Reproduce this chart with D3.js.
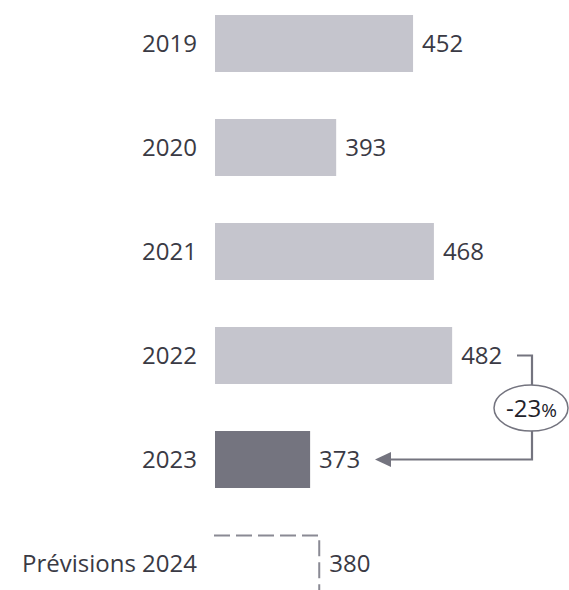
<!DOCTYPE html>
<html>
<head>
<meta charset="utf-8">
<script src="https://cdn.jsdelivr.net/npm/d3@7"></script>
<style>
  html, body { margin: 0; padding: 0; background: #ffffff; }
  svg { display: block; }
  text { font-family: "Open Sans", "Noto Sans", sans-serif; fill: #3a3a44; }
</style>
</head>
<body>
<svg id="chart" width="569" height="590"></svg>
<script>
// Annual figures, plus the 2024 forecast drawn as an outline
const categories = ["2019", "2020", "2021", "2022", "2023", "Prévisions 2024"];
const values = [452, 393, 468, 482, 373, 380];
const kinds = ["past", "past", "past", "past", "current", "forecast"];
const changeNumber = "-23";
const changeUnit = "%";

const W = 569, H = 590;
const svg = d3.select("#chart");

const x = d3.scaleLinear().domain([300, 500]).range([215, 475.6]);
const y = d3.scaleBand()
  .domain(categories)
  .range([-32, 639])
  .paddingInner(0.452)
  .paddingOuter(0.452);

const colors = { past: "#c5c5cd", current: "#74747f" };
const rows = categories.map((c, i) => ({ cat: c, value: values[i], kind: kinds[i] }));
const mid = d => y(d.cat) + y.bandwidth() / 2;

// Solid bars
svg.append("g").selectAll("rect")
  .data(rows.filter(d => d.kind !== "forecast"))
  .join("rect")
  .attr("x", x(300))
  .attr("y", d => y(d.cat))
  .attr("width", d => x(d.value) - x(300))
  .attr("height", y.bandwidth())
  .attr("fill", d => colors[d.kind]);

// Forecast: dashed top edge and right edge
rows.filter(d => d.kind === "forecast").forEach(d => {
  const top = y(d.cat) + 0.5, x1 = x(d.value);
  svg.append("path")
    .attr("d", `M${x(300) - 1},${top}H${x1}V${top + y.bandwidth() + 4}`)
    .attr("fill", "none")
    .attr("stroke", "#8a8a94")
    .attr("stroke-width", 2)
    .attr("stroke-dasharray", "16,6");
});

// Category labels
svg.append("g").selectAll("text")
  .data(rows)
  .join("text")
  .attr("x", 197)
  .attr("y", mid)
  .attr("dy", "0.357em")
  .attr("text-anchor", "end")
  .attr("font-size", 24)
  .text(d => d.cat);

// Value labels
svg.append("g").selectAll("text")
  .data(rows)
  .join("text")
  .attr("x", d => x(d.value) + (d.kind === "forecast" ? 10 : 9))
  .attr("y", mid)
  .attr("dy", "0.357em")
  .attr("font-size", 24)
  .text(d => d.value);

// Change connector from 2022 to 2023
const from = rows[3], to = rows[4];
const cx = 532;
const yFrom = mid(from), yTo = mid(to);
const lineColor = "#74747f";

svg.append("path")
  .attr("d", `M517,${yFrom}H${cx}V${yTo}H390`)
  .attr("fill", "none")
  .attr("stroke", lineColor)
  .attr("stroke-width", 2.2);

svg.append("path")
  .attr("d", `M375,${yTo}L391,${yTo - 7.5}L391,${yTo + 7.5}Z`)
  .attr("fill", lineColor);

const ey = 408;
svg.append("ellipse")
  .attr("cx", cx - 1)
  .attr("cy", ey)
  .attr("rx", 37)
  .attr("ry", 23)
  .attr("fill", "#ffffff")
  .attr("stroke", lineColor)
  .attr("stroke-width", 1.5);

const badge = svg.append("text")
  .attr("x", cx - 0.5)
  .attr("y", ey)
  .attr("dy", "0.357em")
  .attr("text-anchor", "middle")
  .attr("font-size", 24)
  .style("fill", "#22222a");
badge.append("tspan").text(changeNumber);
badge.append("tspan").attr("font-size", 19).text(changeUnit);
</script>
</body>
</html>
